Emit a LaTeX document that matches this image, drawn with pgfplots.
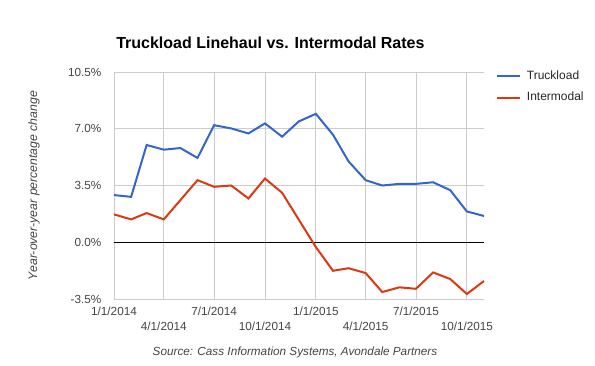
\documentclass[border=0pt]{standalone}
\usepackage{fontspec}
\setmainfont{Liberation Sans}
\usepackage{pgfplots}
\pgfplotsset{compat=1.18}
\definecolor{gblue}{HTML}{3366CC}
\definecolor{gred}{HTML}{DC3912}
\definecolor{ggrid}{HTML}{CCCCCC}
\definecolor{glabel}{HTML}{444444}
\begin{document}
\begin{tikzpicture}
\begin{axis}[
  name=ax,
  at={(0,0)}, anchor=south west,
  scale only axis,
  width=277.5pt, height=170.25pt,
  xmin=0, xmax=669,
  ymin=-3.5, ymax=10.5,
  axis line style={draw=none},
  major tick length=0pt,
  /pgf/number format/assume math mode=true,
  ytick={-3.5,0,3.5,7,10.5},
  yticklabels={-3.5\%,0.0\%,3.5\%,7.0\%,10.5\%},
  xtick={0,181,365,546},
  xticklabels={1/1/2014,7/1/2014,1/1/2015,7/1/2015},
  extra x ticks={90,273,455,638},
  extra x tick labels={4/1/2014,10/1/2014,4/1/2015,10/1/2015},
  extra x tick style={tick label style={yshift=-11.25pt}, grid=major},
  grid=major,
  grid style={ggrid, line width=0.6pt},
  tick label style={font=\fontsize{8.8}{10}\selectfont, text=glabel},
  yticklabel style={xshift=-6pt},
  xticklabel style={yshift=-2.5pt},
  clip=false,
  legend style={at={(1,1)}, anchor=north west, xshift=9pt, yshift=3pt,
    draw=none, fill=none, font=\fontsize{9}{10}\selectfont, text=black!85,
    row sep=4pt, inner sep=0pt},
  legend cell align=left,
  legend image code/.code={\draw[#1, line width=1.5pt] (0pt,0pt) -- (17pt,0pt);},
  legend style={nodes={inner xsep=4.5pt}},
]
\draw[black, line width=0.6pt] (axis cs:0,0) -- (axis cs:669,0);
\addplot[gblue, line width=1.5pt] table {
x y
0 2.91
31 2.80
59 6.00
90 5.71
120 5.81
151 5.20
181 7.22
212 7.02
243 6.71
273 7.33
304 6.51
334 7.45
365 7.92
396 6.63
424 4.99
455 3.83
485 3.50
516 3.60
546 3.60
577 3.70
608 3.21
638 1.90
669 1.62
};
\addlegendentry{Truckload}
\addplot[gred, line width=1.5pt] table {
x y
0 1.72
31 1.41
59 1.80
90 1.41
120 2.60
151 3.83
181 3.42
212 3.50
243 2.70
273 3.93
304 3.05
334 1.40
365 -0.30
396 -1.76
424 -1.60
455 -1.90
485 -3.07
516 -2.78
546 -2.87
577 -1.86
608 -2.27
638 -3.19
669 -2.39
};
\addlegendentry{Intermodal}
\end{axis}
\path (ax.south west) ++(-85.5pt,-49.5pt) rectangle ++(446.25pt,273.75pt);
\node[anchor=west, inner xsep=0pt, font=\fontsize{12}{14}\selectfont\bfseries] at ([xshift=1.5pt,yshift=21.75pt]ax.north west) {Truckload Linehaul vs. Intermodal Rates};
\node[rotate=90, font=\fontsize{9.2}{10}\selectfont\itshape, text=glabel] at ([xshift=-60pt]ax.west) {Year-over-year percentage change};
\node[font=\fontsize{8.8}{10}\selectfont\itshape, text=glabel] at ([xshift=-3pt,yshift=-39.75pt]ax.south) {Source: Cass Information Systems, Avondale Partners};
\end{tikzpicture}
\end{document}
